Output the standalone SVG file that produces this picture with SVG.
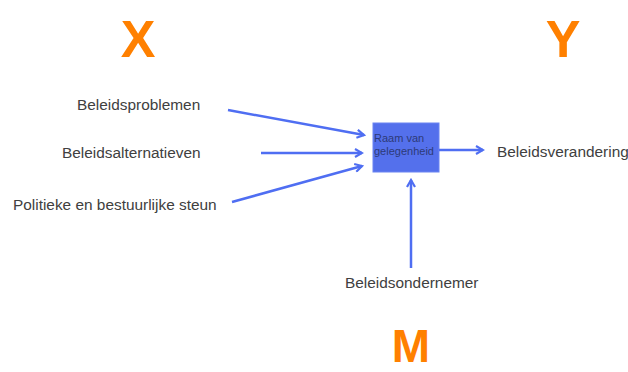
<svg xmlns="http://www.w3.org/2000/svg" width="628" height="372" viewBox="0 0 628 372">
<style>
.lbl{font-family:"Liberation Sans",Arial,sans-serif;font-size:15.4px;fill:#404040}
.big{font-family:"Liberation Sans",Arial,sans-serif;font-size:52px;font-weight:bold;fill:#ff8000;text-anchor:middle}
.conn{stroke:#4f6ef2;stroke-width:2.5;fill:none;marker-end:url(#ah)}
.box{fill:#5470ec;stroke:#6a84f2;stroke-width:1}
.boxt{font-family:"Liberation Sans",Arial,sans-serif;font-size:11px;fill:#2d3a78}
</style>
<defs>
<marker id="ah" markerWidth="10" markerHeight="10" refX="8" refY="5" orient="auto" markerUnits="userSpaceOnUse">
<polyline points="1,1 8,5 1,9" fill="none" stroke="#4f6ef2" stroke-width="2.2"/>
</marker>
</defs>
<rect width="628" height="372" fill="#ffffff"/>
<g id="X"><text class="big" x="138" y="57">X</text></g>
<g id="Y"><text class="big" x="563" y="57">Y</text></g>
<g id="M"><text class="big" x="411" y="362" style="font-size:46px">M</text></g>
<g id="beleidsproblemen"><text class="lbl" x="77" y="110">Beleidsproblemen</text></g>
<g id="beleidsalternatieven"><text class="lbl" x="62" y="158">Beleidsalternatieven</text></g>
<g id="politieke"><text class="lbl" x="13" y="210">Politieke en bestuurlijke steun</text></g>
<g id="raam">
<rect class="box" x="373" y="123" width="66" height="49"/>
<text class="boxt" x="374" y="142">Raam van</text>
<text class="boxt" x="374" y="155">gelegenheid</text>
</g>
<g id="beleidsverandering"><text class="lbl" x="497" y="157">Beleidsverandering</text></g>
<g id="beleidsondernemer"><text class="lbl" x="345" y="288">Beleidsondernemer</text></g>
<g id="connectors">
<line class="conn" x1="228" y1="110" x2="364" y2="135"/>
<line class="conn" x1="261" y1="153" x2="362" y2="153"/>
<line class="conn" x1="232" y1="202" x2="362" y2="166"/>
<line class="conn" x1="439" y1="150" x2="483" y2="150"/>
<line class="conn" x1="411" y1="268" x2="411" y2="180"/>
</g>
</svg>
